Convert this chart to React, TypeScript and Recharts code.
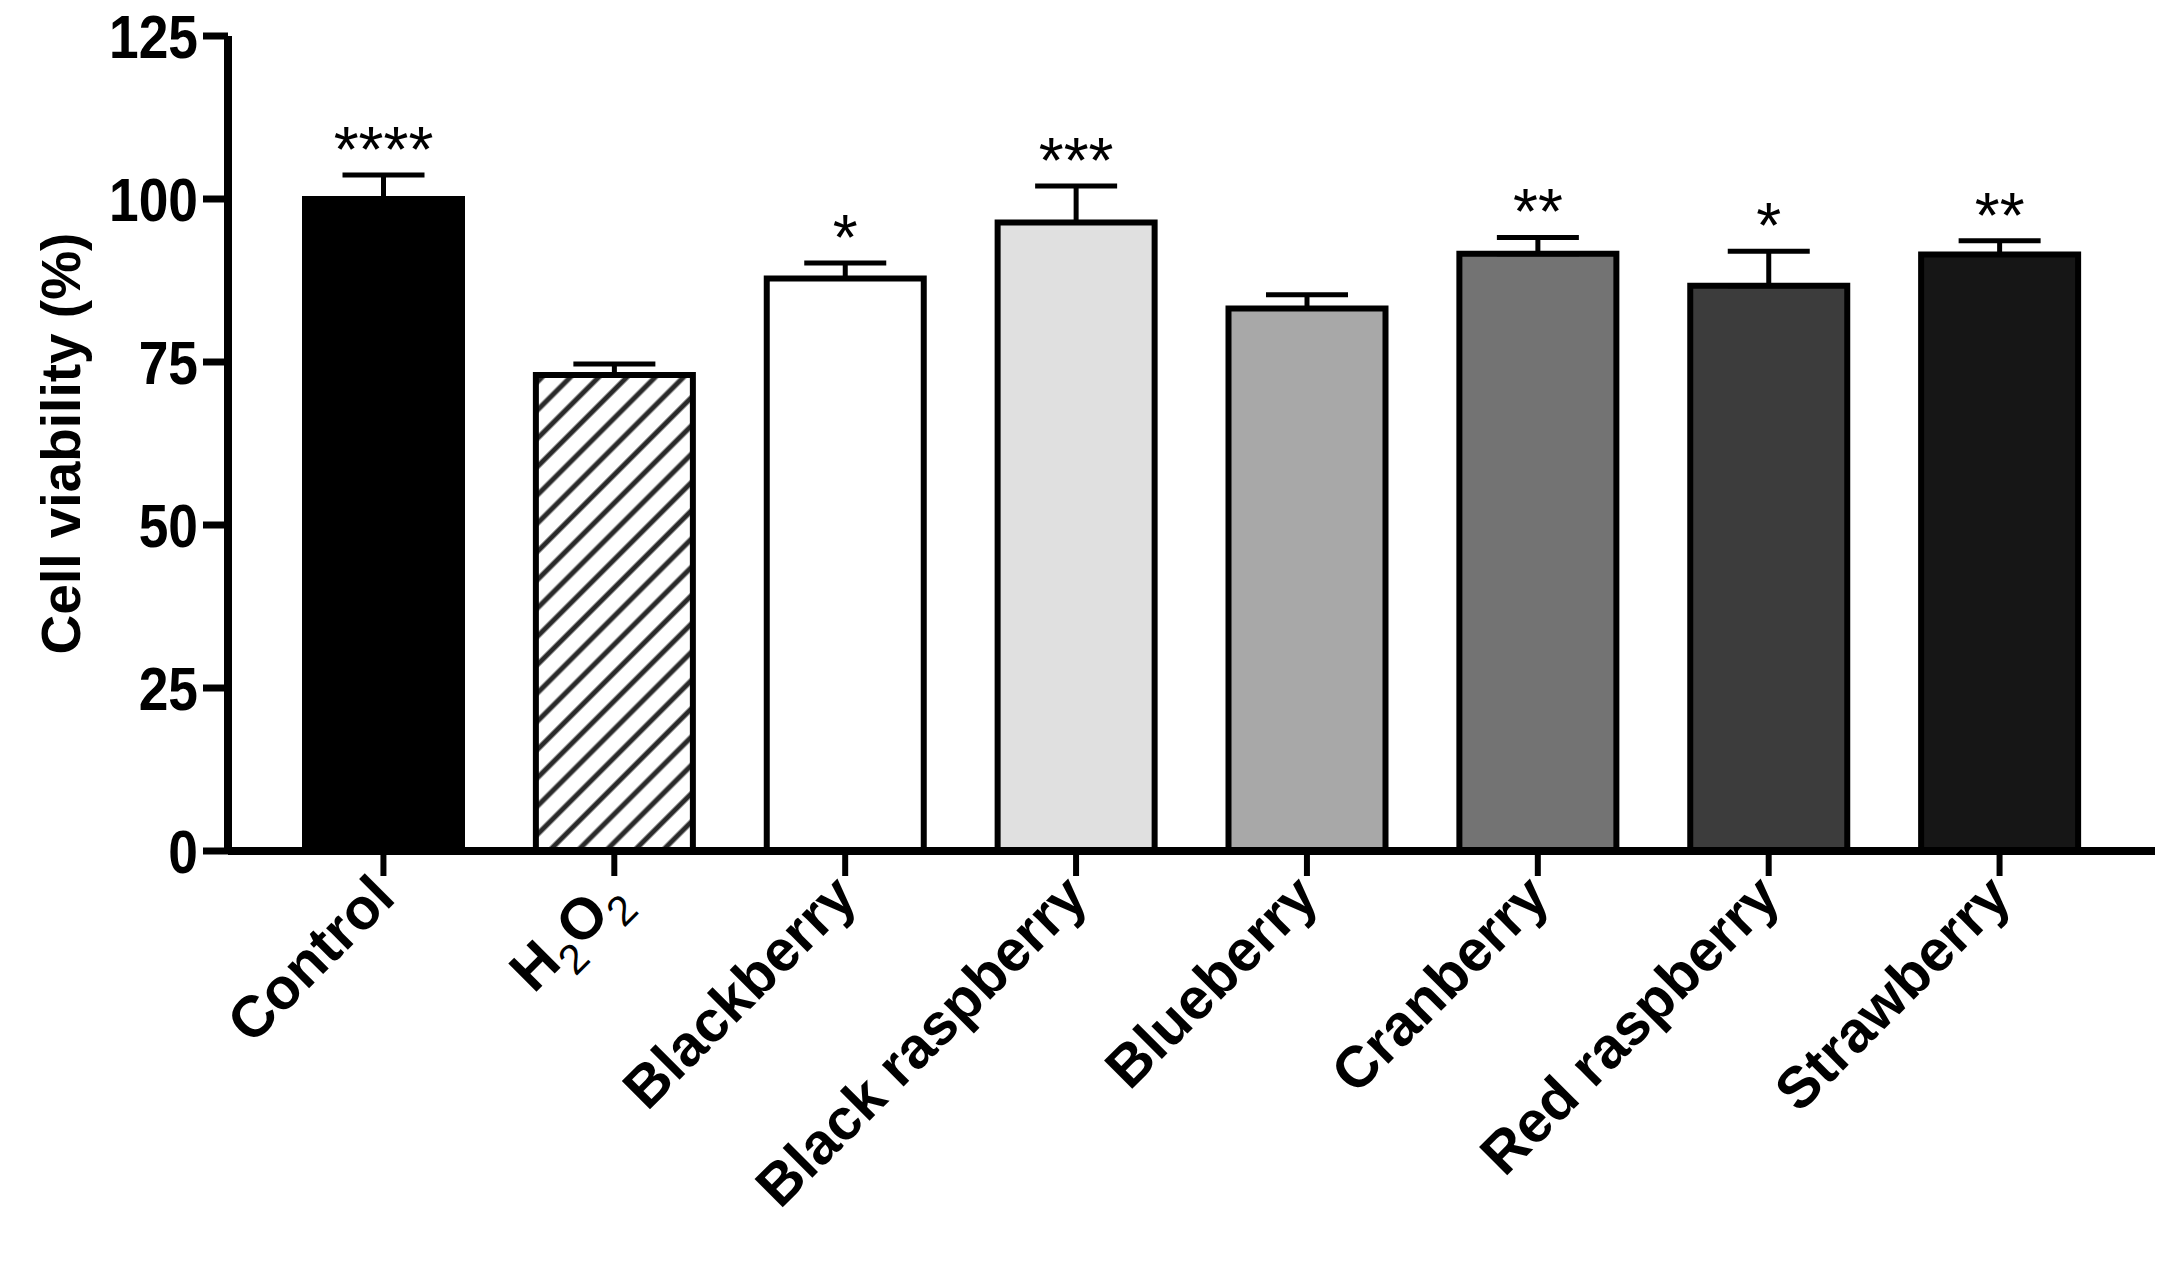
import React from "react";
import { BarChart, Bar, XAxis, YAxis, Cell, ErrorBar, LabelList, Label } from "recharts";

const FONT = '"Liberation Sans", Arial, Helvetica, sans-serif';

// values (mean ± SEM, % of control)
const categories = ["Control", "H2O2", "Blackberry", "Black raspberry", "Blueberry", "Cranberry", "Red raspberry", "Strawberry"];
const viability = [100.0, 73.0, 87.8, 96.4, 83.2, 91.6, 86.7, 91.5];
const sem = [3.7, 1.7, 2.4, 5.6, 2.1, 2.5, 5.3, 2.1];
const significance = ["****", "", "*", "***", "", "**", "*", "**"];
const barFills = ["#000000", "url(#hatch)", "#ffffff", "#e0e0e0", "#a8a8a8", "#737373", "#3c3c3c", "#161616"];
const yTicks = [0, 25, 50, 75, 100, 125];

const data = categories.map((name, i) => ({
  name,
  value: viability[i],
  err: [0, sem[i]],
  sig: significance[i],
}));

// rotated category label; digits become subscripts (H2O2)
function CategoryTick(props: any) {
  const { x, y, payload } = props;
  const parts = String(payload.value).split(/(\d)/).filter(Boolean);
  return (
    <g transform={`translate(${x + 14},${y + 24}) rotate(-45)`}>
      <text textAnchor="end" fontFamily={FONT} fontWeight="bold" fontSize={58} fill="#000">
        {parts.map((p, i) =>
          /\d/.test(p) ? (
            <tspan key={i} fontSize={42} fontWeight="normal" dy={17}>{p}</tspan>
          ) : (
            <tspan key={i} dy={i > 0 ? -17 : 0}>{p}</tspan>
          )
        )}
      </text>
    </g>
  );
}

// narrow, tall digits like the original figure
function ValueTick(props: any) {
  const { x, y, payload } = props;
  return (
    <g transform={`translate(${x},${y}) scale(0.86,1)`}>
      <text textAnchor="end" dy="0.355em" fontFamily={FONT} fontWeight="bold" fontSize={62} fill="#000">
        {payload.value}
      </text>
    </g>
  );
}

function SigLabel(props: any) {
  const { index, value } = props;
  if (!value) return null;
  const vb = props.viewBox || {};
  const x = vb.x ?? props.x;
  const y = vb.y ?? props.y;
  const width = vb.width ?? props.width;
  const height = vb.height ?? props.height;
  const pxPerUnit = Math.abs(height) / viability[index];
  const top = Math.min(y, y + height) - sem[index] * pxPerUnit;
  return (
    <text x={x + width / 2} y={top - 3} textAnchor="middle" fontFamily={FONT} fontSize={64} fill="#000">
      {value}
    </text>
  );
}

function YTitle(props: any) {
  const vb = props.viewBox || { x: 0, y: 36, width: 228, height: 815 };
  const cx = vb.x + 80;
  const cy = vb.y + vb.height / 2;
  return (
    <text
      x={cx}
      y={cy}
      transform={`rotate(-90, ${cx}, ${cy})`}
      textAnchor="middle"
      fontFamily={FONT}
      fontWeight="bold"
      fontSize={55}
      fill="#000"
    >
      Cell viability (%)
    </text>
  );
}

export default function App() {
  return (
    <div style={{ position: "absolute", left: 0, top: 0, background: "#fff" }}>
      <BarChart width={2174} height={1270} data={data} margin={{ top: 36, right: 19, bottom: 0, left: 0 }}>
        <defs>
          <pattern id="hatch" patternUnits="userSpaceOnUse" width="20" height="20" patternTransform="rotate(45)">
            <rect width="20" height="20" fill="#fff" />
            <line x1="10" y1="0" x2="10" y2="20" stroke="#2a2a2a" strokeWidth="5" />
          </pattern>
        </defs>
        <XAxis
          dataKey="name"
          height={419}
          interval={0}
          padding={{ left: 40, right: 40 }}
          axisLine={{ stroke: "#000", strokeWidth: 8 }}
          tickLine={{ stroke: "#000", strokeWidth: 6 }}
          tickSize={25}
          tickMargin={0}
          tick={<CategoryTick />}
        />
        <YAxis
          width={228}
          domain={[0, 125]}
          ticks={yTicks}
          interval={0}
          axisLine={{ stroke: "#000", strokeWidth: 8 }}
          tickLine={{ stroke: "#000", strokeWidth: 7 }}
          tickSize={25}
          tickMargin={5}
          tick={<ValueTick />}
        >
          <Label content={YTitle} />
        </YAxis>
        <Bar dataKey="value" barSize={157} stroke="#000" strokeWidth={6} isAnimationActive={false}>
          {data.map((d, i) => (
            <Cell key={d.name} fill={barFills[i]} stroke="#000" strokeWidth={6} />
          ))}
          <ErrorBar dataKey="err" direction="y" width={41} stroke="#000" strokeWidth={5} isAnimationActive={false} />
          <LabelList dataKey="sig" content={SigLabel} />
        </Bar>
      </BarChart>
    </div>
  );
}
